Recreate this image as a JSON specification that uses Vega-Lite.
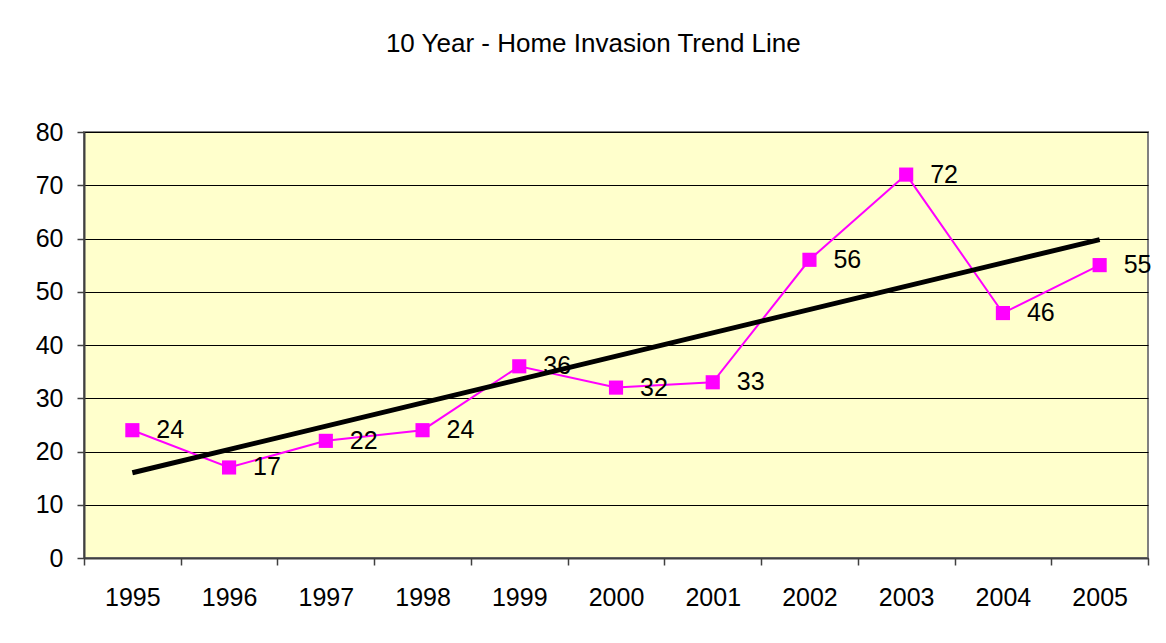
{
  "$schema": "https://vega.github.io/schema/vega-lite/v6.json",
  "width": 1064,
  "height": 426,
  "autosize": {"type": "none"},
  "padding": {"left": 84, "top": 132, "right": 18, "bottom": 85},
  "background": "white",
  "title": {
    "text": "10 Year - Home Invasion Trend Line",
    "font": "Liberation Sans",
    "fontSize": 26,
    "fontWeight": "normal",
    "color": "black",
    "anchor": "middle",
    "frame": "bounds",
    "offset": 63
  },
  "datasets": {
    "series": [
      {"year": "1995", "count": 24},
      {"year": "1996", "count": 17},
      {"year": "1997", "count": 22},
      {"year": "1998", "count": 24},
      {"year": "1999", "count": 36},
      {"year": "2000", "count": 32},
      {"year": "2001", "count": 33},
      {"year": "2002", "count": 56},
      {"year": "2003", "count": 72},
      {"year": "2004", "count": 46},
      {"year": "2005", "count": 55}
    ],
    "trend": [
      {"year": "1995", "trend": 16.0},
      {"year": "2005", "trend": 59.8}
    ]
  },
  "config": {
    "view": {"stroke": "#808080", "strokeWidth": 2, "fill": "#FFFFCC"},
    "font": "Liberation Sans",
    "axis": {
      "labelFont": "Liberation Sans",
      "labelFontSize": 25,
      "labelColor": "black",
      "domainColor": "#404040",
      "domainWidth": 2,
      "tickColor": "#404040",
      "tickWidth": 1.5,
      "tickSize": 7,
      "title": null
    }
  },
  "encoding": {
    "x": {
      "field": "year",
      "type": "ordinal",
      "bandPosition": 0.5,
      "scale": {
        "type": "band",
        "paddingInner": 0,
        "paddingOuter": 0,
        "domain": ["1995", "1996", "1997", "1998", "1999", "2000", "2001", "2002", "2003", "2004", "2005"]
      },
      "axis": {
        "orient": "bottom",
        "tickBand": "extent",
        "labelAngle": 0,
        "labelPadding": 20,
        "grid": false,
        "title": null
      }
    }
  },
  "layer": [
    {
      "data": {"name": "series"},
      "mark": {"type": "line", "color": "#FF00FF", "strokeWidth": 2},
      "encoding": {
        "y": {
          "field": "count",
          "type": "quantitative",
          "scale": {"domain": [0, 80], "nice": false},
          "axis": {
            "values": [0, 10, 20, 30, 40, 50, 60, 70, 80],
            "grid": true,
            "gridColor": "#000000",
            "gridWidth": 1,
            "labelPadding": 14,
            "title": null
          }
        }
      }
    },
    {
      "data": {"name": "trend"},
      "mark": {"type": "line", "color": "#000000", "strokeWidth": 5},
      "encoding": {
        "y": {"field": "trend", "type": "quantitative"}
      }
    },
    {
      "data": {"name": "series"},
      "mark": {"type": "point", "shape": "square", "filled": true, "color": "#FF00FF", "opacity": 1, "size": 200},
      "encoding": {
        "y": {"field": "count", "type": "quantitative"}
      }
    },
    {
      "data": {"name": "series"},
      "mark": {"type": "text", "align": "left", "baseline": "middle", "dx": 24, "fontSize": 25, "font": "Liberation Sans", "color": "black"},
      "encoding": {
        "y": {"field": "count", "type": "quantitative"},
        "text": {"field": "count", "type": "quantitative"}
      }
    }
  ]
}
